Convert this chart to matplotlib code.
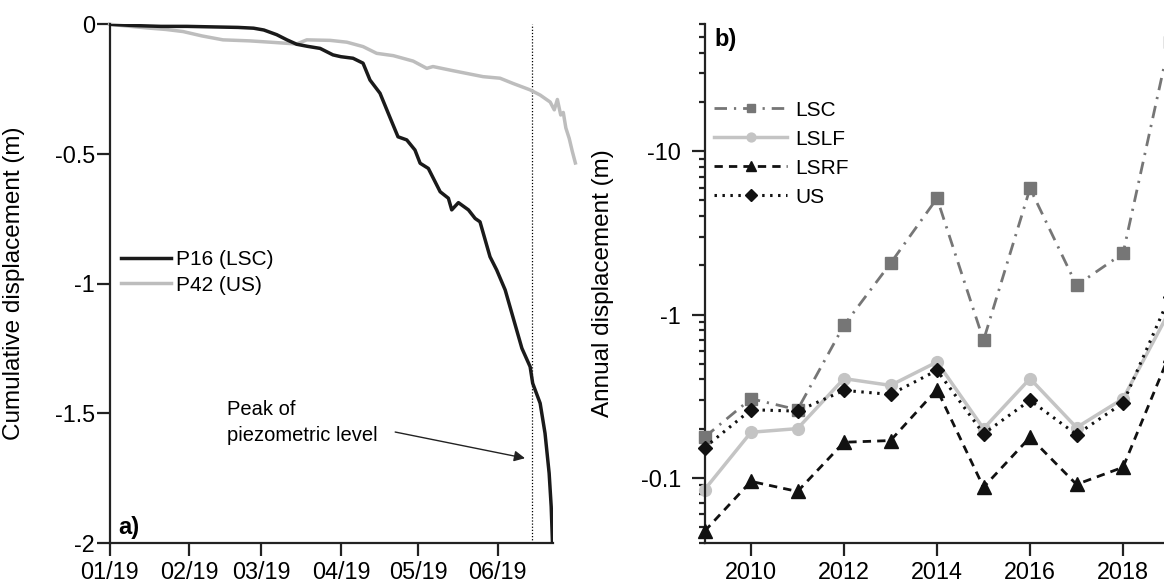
import numpy as np
import matplotlib
matplotlib.use("Agg")
import matplotlib.pyplot as plt
import matplotlib.dates as mdates
from matplotlib.ticker import FuncFormatter, LogLocator, NullFormatter, FixedLocator

plt.rcParams['font.family'] = ['Liberation Sans', 'DejaVu Sans']
plt.rcParams['axes.unicode_minus'] = False

# ---------------- data: panel a) ----------------
start_date = np.datetime64('2019-01-01')
p16_days = [0, 10, 20, 30, 40, 50, 56, 60, 65, 69, 72.8, 77, 81.9, 86.9, 90, 94.7, 98.6,
            101.3, 105.2, 109.1, 112.2, 115.6, 118.8, 120.8, 124, 128.6, 131.8, 133.1,
            135.7, 139.6, 142.2, 144.1, 148, 150.6, 153.9, 156.5, 160.4, 163.6, 164.6,
            167.5, 169.4, 171, 171.8, 172.3]
p16_disp = [0, -0.005, -0.008, -0.008, -0.01, -0.012, -0.015, -0.022, -0.04, -0.06, -0.077,
            -0.085, -0.093, -0.118, -0.125, -0.131, -0.15,
            -0.215, -0.266, -0.36, -0.434, -0.446, -0.485, -0.536, -0.556, -0.646, -0.671,
            -0.716, -0.688, -0.716, -0.749, -0.762, -0.897, -0.948, -1.025, -1.115, -1.25,
            -1.321, -1.385, -1.462, -1.578, -1.732, -1.861, -2.0]
p42_days = [0, 8, 15.7, 22, 28.6, 36, 44.1, 54.6, 64, 72.8, 76.7, 85.8, 92.3, 98.6, 103.9,
            110.4, 118.1, 123.4, 125.8, 133.6, 140.2, 145.3, 151.9, 156.9, 163.6, 167.5,
            171.4, 173, 174.2, 175.5, 176.5, 177.5, 178.8, 180, 181.2]
p42_disp = [0, -0.008, -0.015, -0.02, -0.028, -0.045, -0.06, -0.064, -0.07, -0.076, -0.06,
            -0.062, -0.069, -0.086, -0.112, -0.121, -0.142, -0.17, -0.163, -0.179, -0.192,
            -0.202, -0.208, -0.228, -0.253, -0.273, -0.30, -0.33, -0.29, -0.35, -0.34,
            -0.40, -0.44, -0.49, -0.535]
peak_day = 164.2
month_ticks = ['2019-01-01', '2019-02-01', '2019-03-01', '2019-04-01', '2019-05-01', '2019-06-01']

# ---------------- data: panel b) ----------------
years = [2009, 2010, 2011, 2012, 2013, 2014, 2015, 2016, 2017, 2018, 2019]
lsc = [-0.177, -0.305, -0.261, -0.86, -2.06, -5.15, -0.695, -5.93, -1.51, -2.37, -47.0]
lslf = [-0.0844, -0.19, -0.2, -0.405, -0.368, -0.512, -0.2, -0.405, -0.203, -0.305, -1.05]
lsrf = [-0.047, -0.095, -0.0824, -0.165, -0.169, -0.347, -0.0875, -0.177, -0.091, -0.116, -0.568]
us = [-0.153, -0.261, -0.256, -0.343, -0.324, -0.455, -0.186, -0.298, -0.184, -0.287, -1.28]


def to_dates(days):
    secs = (np.asarray(days) * 86400).astype('int64').astype('timedelta64[s]')
    return start_date + secs


W, H = 1164, 587
fig = plt.figure(figsize=(W / 100, H / 100), dpi=100)
ax1 = fig.add_axes([109.6 / W, 1 - 542.7 / H, (553 - 109.6) / W, (542.7 - 24.3) / H])
ax2 = fig.add_axes([704.5 / W, 1 - 542.7 / H, 479 / W, (542.7 - 24.3) / H])

TICK_FS = 16.8
LABEL_FS = 17.5
LEG_FS = 15

for ax in (ax1, ax2):
    for s in ('top', 'right'):
        ax.spines[s].set_visible(False)
    for s in ('left', 'bottom'):
        ax.spines[s].set_linewidth(1.6)
        ax.spines[s].set_color('#222222')
    ax.patch.set_alpha(0)

# ---------- panel a ----------
ax1.plot(to_dates(p42_days), p42_disp, color='#bdbdbd', lw=2.5, label='P42 (US)',
         clip_on=False, zorder=2)
ax1.plot(to_dates(p16_days), p16_disp, color='#1a1a1a', lw=2.5, label='P16 (LSC)', zorder=3)
ax1.axvline(to_dates([peak_day])[0], color='black', lw=0.9, ls=(0, (1, 1.5)), zorder=1)

ax1.set_xlim(start_date, to_dates([172.5])[0])
ax1.set_ylim(-2, 0)
ax1.xaxis.set_major_locator(FixedLocator(mdates.date2num(np.array(month_ticks, dtype='datetime64[D]'))))
ax1.xaxis.set_major_formatter(mdates.DateFormatter('%m/%y'))
ax1.set_yticks([0, -0.5, -1, -1.5, -2])
ax1.yaxis.set_major_formatter(FuncFormatter(lambda v, p: f"{v:g}"))
ax1.tick_params(axis='both', direction='out', length=9.5, width=1.6, labelsize=TICK_FS, color='#222222')
ax1.tick_params(axis='y', pad=1)
ax1.tick_params(axis='x', pad=4)
ax1.set_ylabel('Cumulative displacement (m)', fontsize=LABEL_FS)
ax1.yaxis.set_label_coords(-0.191, 0.5)

h, l = ax1.get_legend_handles_labels()
ax1.legend([h[1], h[0]], [l[1], l[0]], loc='upper left', bbox_to_anchor=(0.025, 0.564),
           frameon=False, fontsize=LEG_FS, handlelength=2.4, handletextpad=0.25,
           labelspacing=0.3, borderpad=0, borderaxespad=0)

ax1.text(to_dates([45.7])[0], -1.536, 'Peak of\npiezometric level', fontsize=14.5,
         ha='left', va='center', linespacing=1.45)
ax1.annotate('', xy=(to_dates([161.6])[0], -1.674), xytext=(to_dates([111.1])[0], -1.573),
             arrowprops=dict(arrowstyle='-|>', color='#222222', lw=1.0, mutation_scale=16,
                             shrinkA=0, shrinkB=0))
ax1.text(0.019, 0.03, 'a)', transform=ax1.transAxes, fontsize=17, fontweight='bold',
         ha='left', va='center')

# ---------- panel b ----------
yrs = np.array(years)
ax2.plot(yrs, np.abs(lsc), color='#767676', lw=2.0, ls=(0, (4.5, 2.5, 0.8, 2.5)),
         marker='s', ms=8, label='LSC', clip_on=False, zorder=3)
ax2.plot(yrs, np.abs(lslf), color='#c4c4c4', lw=2.5, ls='-',
         marker='o', ms=8.5, label='LSLF', clip_on=False, zorder=2)
ax2.plot(yrs, np.abs(lsrf), color='#111111', lw=2.0, ls=(0, (3, 2.2)),
         marker='^', ms=9.5, label='LSRF', clip_on=False, zorder=4)
ax2.plot(yrs, np.abs(us), color='#111111', lw=2.2, ls=(0, (0.8, 1.8)),
         marker='D', ms=7.5, label='US', clip_on=False, zorder=5)

ax2.set_yscale('log')
ax2.set_ylim(0.04, 60)
ax2.set_xlim(2009, 2019.3)
ax2.yaxis.set_major_locator(LogLocator(base=10, numticks=10))
ax2.yaxis.set_minor_locator(LogLocator(base=10, subs=np.arange(2, 10), numticks=20))
ax2.yaxis.set_minor_formatter(NullFormatter())
ax2.yaxis.set_major_formatter(FuncFormatter(lambda v, p: f"-{v:g}"))
ax2.set_xticks([2010, 2012, 2014, 2016, 2018])
ax2.tick_params(axis='both', which='major', direction='out', length=9.5, width=1.6,
                labelsize=TICK_FS, color='#222222')
ax2.tick_params(axis='y', which='minor', direction='out', length=4.5, width=1.6, color='#222222')
ax2.tick_params(axis='y', which='major', pad=7.5)
ax2.tick_params(axis='x', pad=4)
ax2.set_ylabel('Annual displacement (m)', fontsize=LABEL_FS)
ax2.yaxis.set_label_coords(-0.189, 0.5)

ax2.legend(loc='upper left', bbox_to_anchor=(0.02, 0.853), frameon=False, fontsize=LEG_FS,
           handlelength=3.5, handletextpad=0.4, labelspacing=0.48, borderpad=0,
           borderaxespad=0, markerscale=0.75)
ax2.text(0.02, 0.97, 'b)', transform=ax2.transAxes, fontsize=17, fontweight='bold',
         ha='left', va='center')

fig.savefig('out.png', dpi=100)
